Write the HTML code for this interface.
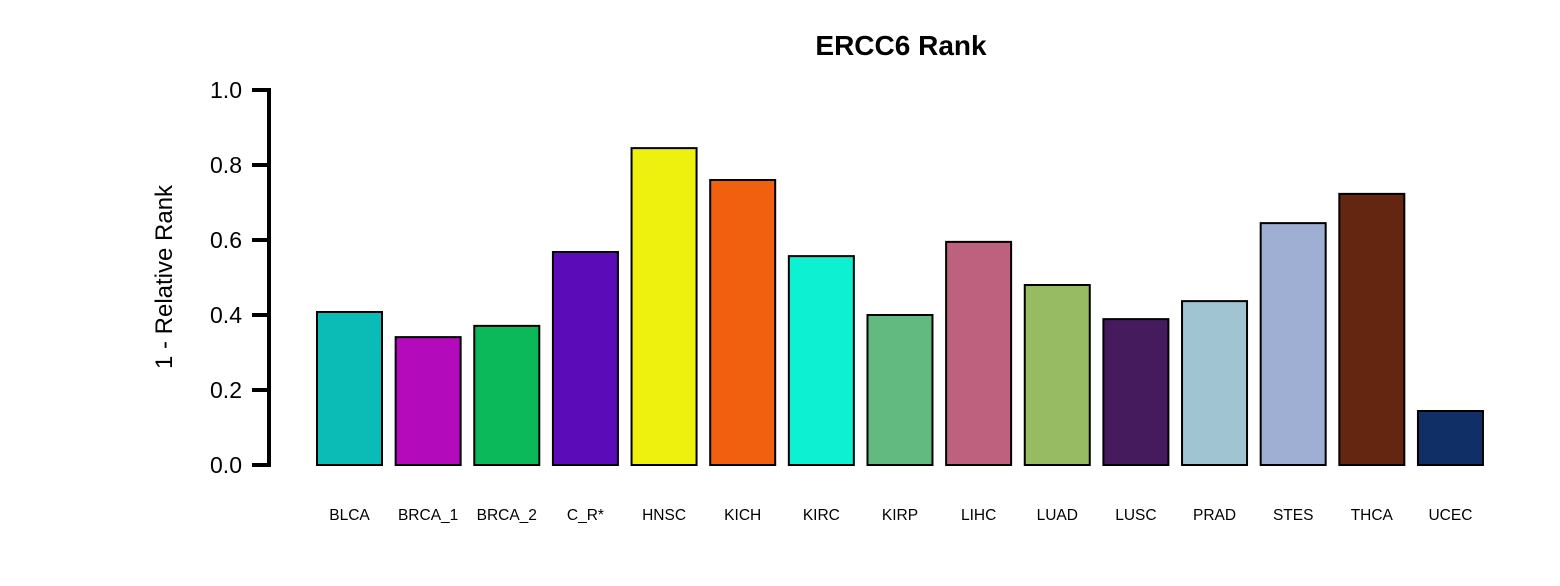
<!DOCTYPE html>
<html><head><meta charset="utf-8"><style>
html,body{margin:0;padding:0;background:#fff;}
svg{display:block;font-family:"Liberation Sans",Arial,sans-serif;}
</style></head><body>
<svg id="chart" width="1560" height="586" viewBox="0 0 1560 586">
<text x="901" y="55" text-anchor="middle" font-size="28" font-weight="bold">ERCC6 Rank</text>
<text transform="translate(172,277) rotate(-90)" text-anchor="middle" font-size="24">1 - Relative Rank</text>
<g id="yaxis"></g>
<g id="bars"></g>
<g id="xlabels"></g>
</svg>
<script>
const categories=["BLCA","BRCA_1","BRCA_2","C_R*","HNSC","KICH","KIRC","KIRP","LIHC","LUAD","LUSC","PRAD","STES","THCA","UCEC"];
const values=[0.408,0.341,0.371,0.568,0.845,0.76,0.557,0.4,0.595,0.48,0.389,0.437,0.645,0.723,0.144];
const colors=["#0bbbb5","#b30bbb","#0bb85a","#5c0bb8","#eef00d","#f0600f","#0ef0d2","#62ba80","#bd617f","#97bb62","#461b5e","#a0c4d2","#9faed3","#652611","#0f2f66"];
const yTicks=[0,0.2,0.4,0.6,0.8,1.0];
const yTickLabels=["0.0","0.2","0.4","0.6","0.8","1.0"];
const NS="http://www.w3.org/2000/svg";
const y=v=>465-v*375;
const x=i=>317+i*78.64;
const bw=65;
const ya=document.getElementById('yaxis');
let ln=document.createElementNS(NS,'line');
ln.setAttribute('x1',269);ln.setAttribute('x2',269);ln.setAttribute('y1',y(0)+2);ln.setAttribute('y2',y(1)-2);
ln.setAttribute('stroke','#000');ln.setAttribute('stroke-width',4);


ya.appendChild(ln);
yTicks.forEach((t,i)=>{
 const tk=document.createElementNS(NS,'line');
 tk.setAttribute('x1',252);tk.setAttribute('x2',269);tk.setAttribute('y1',y(t));tk.setAttribute('y2',y(t));
 tk.setAttribute('stroke','#000');tk.setAttribute('stroke-width',4);
 
 
 ya.appendChild(tk);
 const tx=document.createElementNS(NS,'text');
 tx.setAttribute('x',242);tx.setAttribute('y',y(t)+8);tx.setAttribute('text-anchor','end');tx.setAttribute('font-size',23);
 tx.textContent=yTickLabels[i];
 
 
 ya.appendChild(tx);
});
const bg=document.getElementById('bars'),xl=document.getElementById('xlabels');
categories.forEach((c,i)=>{
 const r=document.createElementNS(NS,'rect');
 r.setAttribute('x',x(i));r.setAttribute('y',y(values[i]));r.setAttribute('width',bw);r.setAttribute('height',y(0)-y(values[i]));
 r.setAttribute('fill',colors[i]);r.setAttribute('stroke','#000');r.setAttribute('stroke-width',2);
 
 
 bg.appendChild(r);
 const t=document.createElementNS(NS,'text');
 t.setAttribute('x',x(i)+bw/2);t.setAttribute('y',520);t.setAttribute('text-anchor','middle');t.setAttribute('font-size',15.5);
 t.textContent=c;
 
 
 xl.appendChild(t);
});
</script>
</body></html>
